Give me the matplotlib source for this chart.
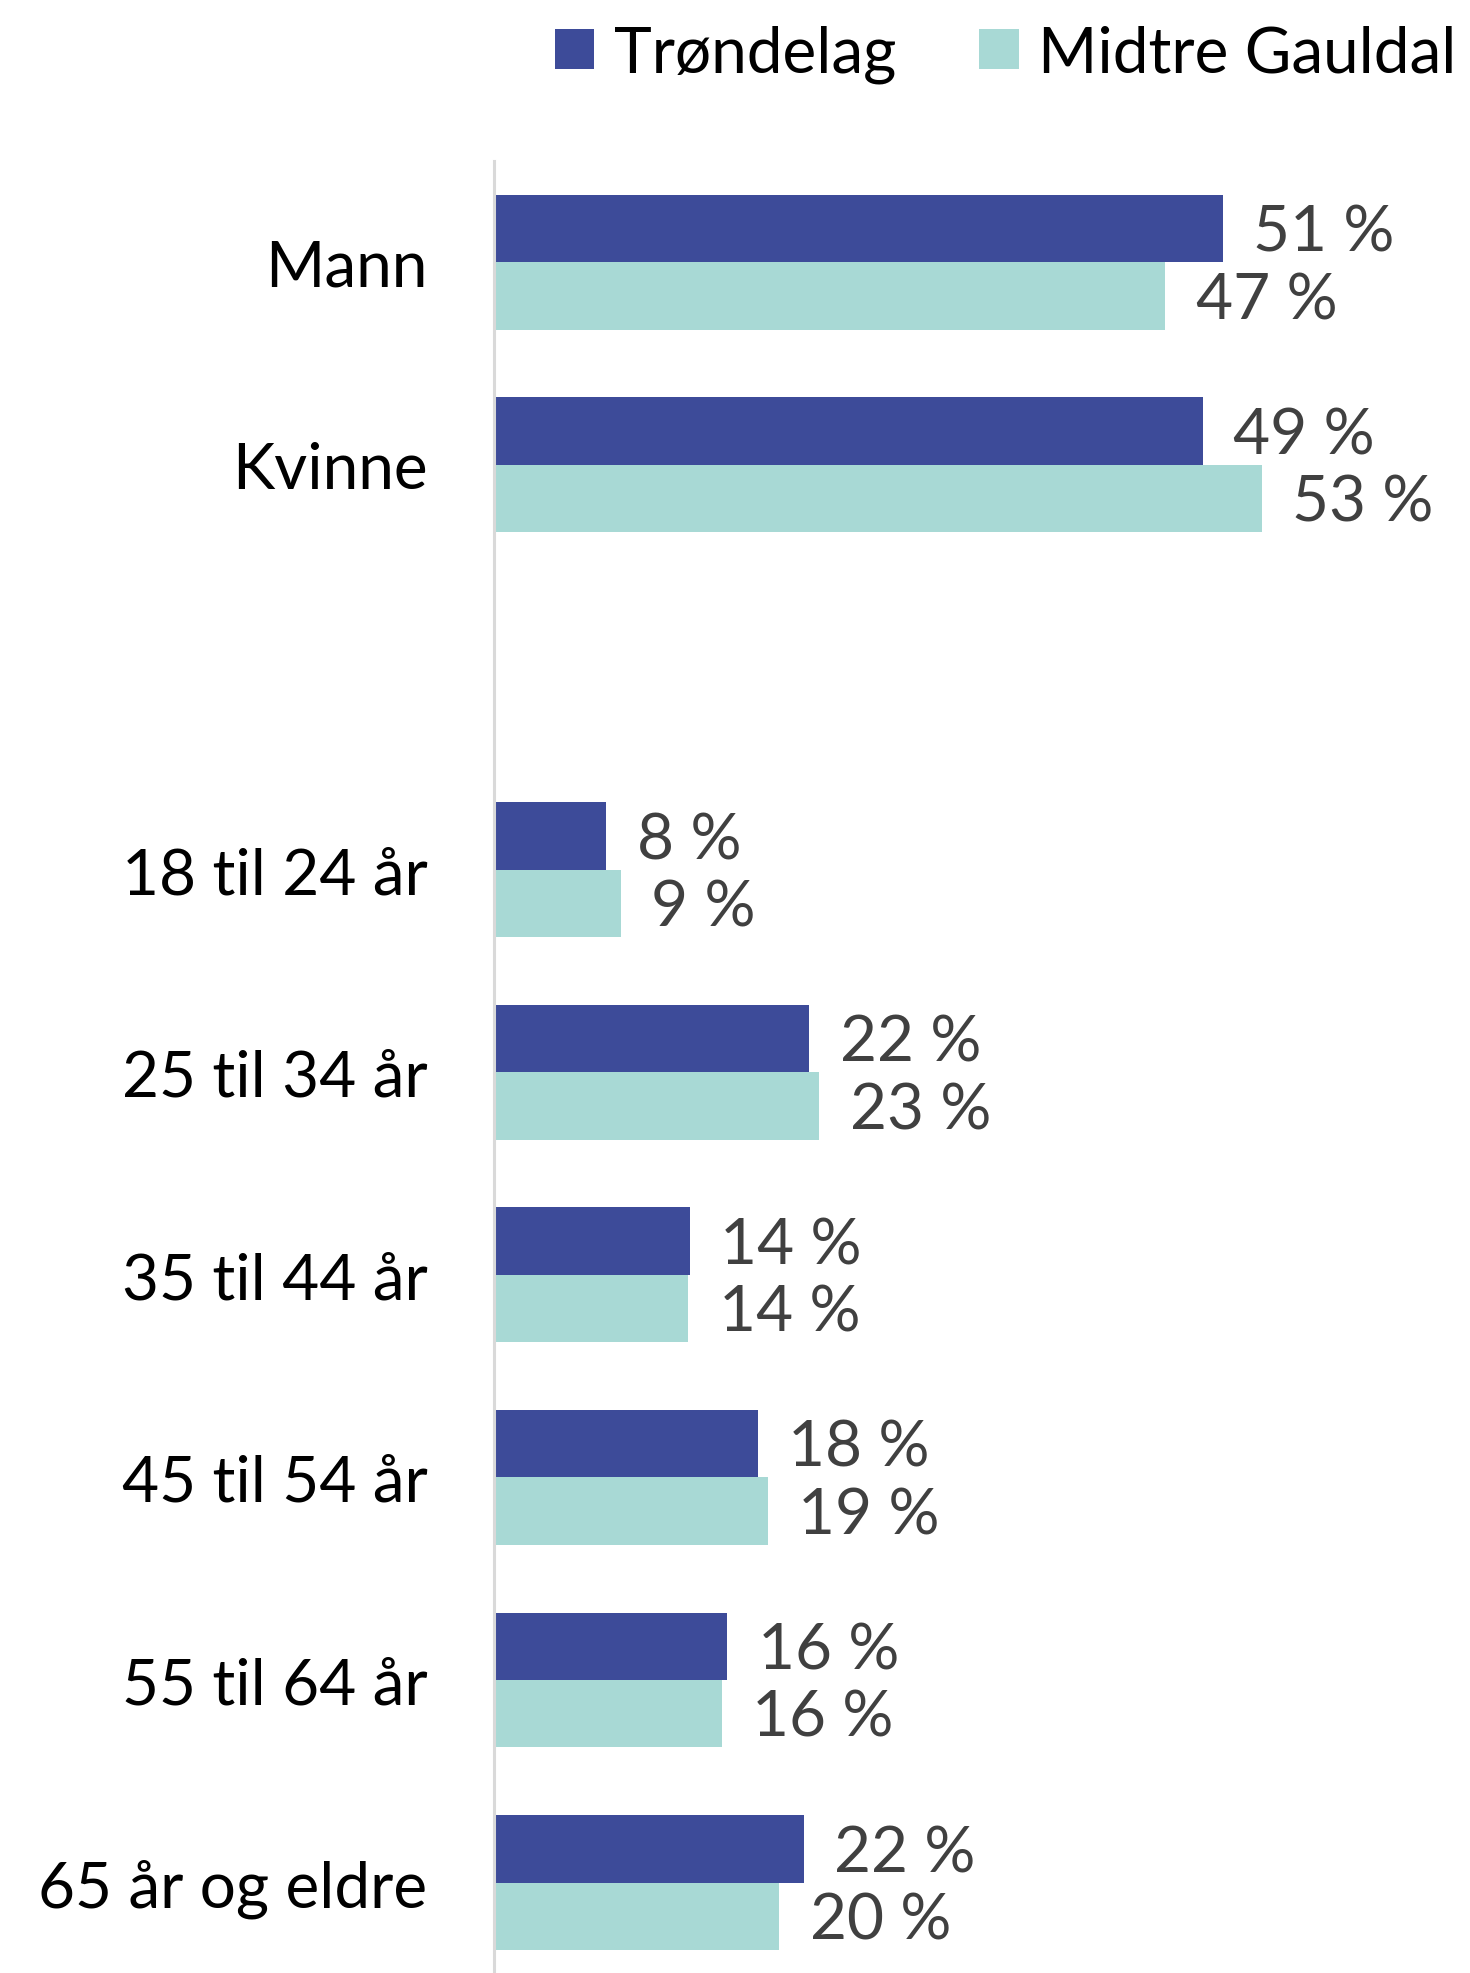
import numpy as np
import matplotlib
matplotlib.use("Agg")
import matplotlib.pyplot as plt

plt.rcParams['font.family'] = ['Lato', 'DejaVu Sans']

# data (share of population, %)
categories = ["Mann", "Kvinne", "", "18 til 24 år", "25 til 34 år",
              "35 til 44 år", "45 til 54 år", "55 til 64 år", "65 år og eldre"]
trondelag = [50.6, 49.2, np.nan, 7.8, 21.9, 13.6, 18.3, 16.2, 21.5]
midtre_gauldal = [46.6, 53.3, np.nan, 8.8, 22.6, 13.5, 19.0, 15.8, 19.8]
series_names = ["Trøndelag", "Midtre Gauldal"]

col_trond = '#3D4B99'
col_midtre = '#A8D9D5'
fs = 46

fig = plt.figure(figsize=(14.7, 19.74), dpi=100, facecolor='white')
ax = fig.add_axes([0.336, -0.0055, 0.588, 0.9235])

y = np.arange(len(categories))
h = 0.333
b1 = ax.barh(y - h / 2, trondelag, height=h, color=col_trond, label=series_names[0])
b2 = ax.barh(y + h / 2, midtre_gauldal, height=h, color=col_midtre, label=series_names[1])

# data labels
for bars, vals in ((b1, trondelag), (b2, midtre_gauldal)):
    for rect, v in zip(bars, vals):
        if np.isnan(v):
            continue
        ax.annotate(f"{int(v + 0.5)} %", (v, rect.get_y() + rect.get_height() / 2),
                    xytext=(22, -3), textcoords='offset points',
                    ha='left', va='center', fontsize=fs, color='#404040')

ax.set_xlim(0, 60)
ax.set_ylim(len(categories) - 0.5, -0.5)
ax.set_yticks(y)
ax.set_yticklabels(categories, fontsize=fs, color='black')
ax.tick_params(axis='y', length=0, pad=48)
ax.set_xticks([])
for s in ['top', 'right', 'bottom']:
    ax.spines[s].set_visible(False)
ax.spines['left'].set_color('#D9D9D9')
ax.spines['left'].set_linewidth(2.2)

fig.legend(handles=[b1, b2], loc='upper right', bbox_to_anchor=(1.008, 1.0),
           ncol=2, frameon=False, fontsize=fs, handlelength=0.62,
           handleheight=0.6, handletextpad=0.3, columnspacing=1.3,
           borderaxespad=0)

fig.savefig("out.png", dpi=100, facecolor='white')
